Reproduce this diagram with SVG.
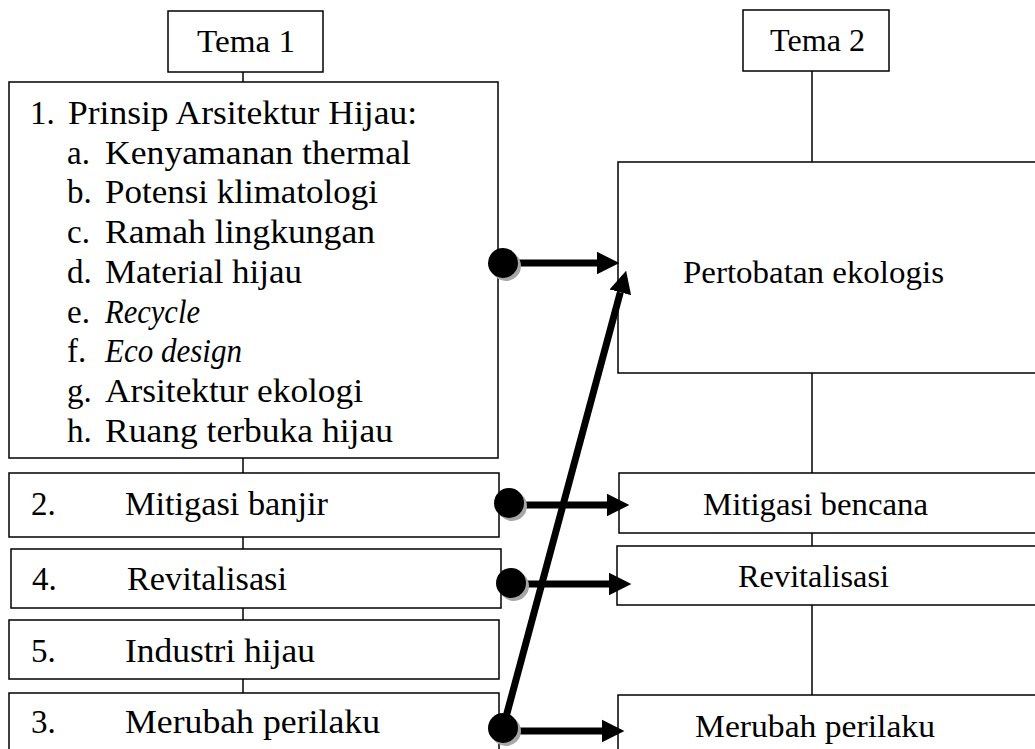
<svg xmlns="http://www.w3.org/2000/svg" width="1035" height="749" viewBox="0 0 1035 749">
<style>
.box{fill:#fff;stroke:#000;stroke-width:1.5}
.ln{stroke:#000;stroke-width:1.5;fill:none}
text{font-family:"Liberation Serif","Times New Roman",serif;font-size:33px;fill:#000}
.t{font-size:32px}
.r{font-size:31px}
.c{text-anchor:middle}
.i{font-style:italic}
.arr{stroke:#000;stroke-width:7;fill:none}
.dot{fill:#000}
.sh{fill:#a6a6a6}
</style>
<defs>
<marker id="ah" markerWidth="3.4" markerHeight="4" refX="0" refY="2" orient="auto" markerUnits="strokeWidth" viewBox="0 0 3.4 4">
<path d="M0,0.4 L3.2,2 L0,3.6 Z" fill="#000"/>
</marker>
</defs>
<g id="connectors-tree">
<line class="ln" x1="243" y1="72" x2="243" y2="82"/>
<line class="ln" x1="243" y1="458" x2="243" y2="473"/>
<line class="ln" x1="243" y1="537" x2="243" y2="549"/>
<line class="ln" x1="243" y1="608" x2="243" y2="620"/>
<line class="ln" x1="243" y1="679" x2="243" y2="693"/>
<line class="ln" x1="812" y1="71" x2="812" y2="162"/>
<line class="ln" x1="812" y1="373" x2="812" y2="473"/>
<line class="ln" x1="812" y1="533" x2="812" y2="546"/>
<line class="ln" x1="812" y1="605" x2="812" y2="695"/>
</g>
<g id="tema1"><rect class="box" x="168" y="11" width="155" height="61"/><text class="t" x="197" y="52" textLength="98" lengthAdjust="spacingAndGlyphs">Tema 1</text></g>
<g id="tema2"><rect class="box" x="743" y="10" width="146" height="61"/><text class="t" x="770" y="51" textLength="95" lengthAdjust="spacingAndGlyphs">Tema 2</text></g>
<g id="n1">
<rect class="box" x="9" y="82" width="489" height="376"/>
<text x="30" y="124">1.</text><text x="68" y="124" textLength="349" lengthAdjust="spacingAndGlyphs">Prinsip Arsitektur Hijau:</text>
<text x="67" y="163.7">a.</text><text x="105" y="163.7" textLength="306" lengthAdjust="spacingAndGlyphs">Kenyamanan thermal</text>
<text x="67" y="203.4">b.</text><text x="105" y="203.4" textLength="273" lengthAdjust="spacingAndGlyphs">Potensi klimatologi</text>
<text x="67" y="243.1">c.</text><text x="105" y="243.1" textLength="270" lengthAdjust="spacingAndGlyphs">Ramah lingkungan</text>
<text x="67" y="282.8">d.</text><text x="105" y="282.8" textLength="197" lengthAdjust="spacingAndGlyphs">Material hijau</text>
<text x="67" y="322.5">e.</text><text class="i" x="105" y="322.5" textLength="95" lengthAdjust="spacingAndGlyphs">Recycle</text>
<text x="67" y="362.2">f.</text><text class="i" x="105" y="362.2" textLength="137" lengthAdjust="spacingAndGlyphs">Eco design</text>
<text x="67" y="401.9">g.</text><text x="105" y="401.9" textLength="258" lengthAdjust="spacingAndGlyphs">Arsitektur ekologi</text>
<text x="67" y="441.6">h.</text><text x="105" y="441.6" textLength="288" lengthAdjust="spacingAndGlyphs">Ruang terbuka hijau</text>
</g>
<g id="n2"><rect class="box" x="9" y="473" width="490" height="64"/><text x="31" y="515">2.</text><text x="125" y="515" textLength="203" lengthAdjust="spacingAndGlyphs">Mitigasi banjir</text></g>
<g id="n4"><rect class="box" x="11" y="549" width="490" height="59"/><text x="32" y="590">4.</text><text x="127" y="590" textLength="160" lengthAdjust="spacingAndGlyphs">Revitalisasi</text></g>
<g id="n5"><rect class="box" x="9" y="620" width="490" height="59"/><text x="31" y="662">5.</text><text x="125" y="662" textLength="190" lengthAdjust="spacingAndGlyphs">Industri hijau</text></g>
<g id="n3"><rect class="box" x="9" y="693" width="490" height="70"/><text x="31" y="733">3.</text><text x="125" y="733" textLength="255" lengthAdjust="spacingAndGlyphs">Merubah perilaku</text></g>
<g id="r1"><rect class="box" x="618" y="162" width="430" height="211"/><text class="r" x="683" y="283" textLength="261" lengthAdjust="spacingAndGlyphs">Pertobatan ekologis</text></g>
<g id="r2"><rect class="box" x="619" y="473" width="430" height="60"/><text class="r" x="703" y="515" textLength="225" lengthAdjust="spacingAndGlyphs">Mitigasi bencana</text></g>
<g id="r3"><rect class="box" x="617" y="546" width="430" height="59"/><text class="r" x="738" y="587" textLength="151" lengthAdjust="spacingAndGlyphs">Revitalisasi</text></g>
<g id="r4"><rect class="box" x="618" y="695" width="430" height="70"/><text class="r" x="695" y="737" textLength="240" lengthAdjust="spacingAndGlyphs">Merubah perilaku</text></g>
<g id="connectors">
<line class="arr" x1="503" y1="263" x2="597" y2="263" marker-end="url(#ah)"/>
<line class="arr" x1="509" y1="505" x2="607" y2="505" marker-end="url(#ah)"/>
<line class="arr" x1="511" y1="584" x2="609" y2="584" marker-end="url(#ah)"/>
<line class="arr" x1="503" y1="731" x2="602" y2="731" marker-end="url(#ah)"/>
<line class="arr" x1="503" y1="728" x2="620.3" y2="292.3" marker-end="url(#ah)"/>
<circle class="sh" cx="506" cy="266" r="15"/><circle class="dot" cx="503" cy="263" r="15"/>
<circle class="sh" cx="512" cy="506" r="15"/><circle class="dot" cx="509" cy="503" r="15"/>
<circle class="sh" cx="514" cy="586" r="15"/><circle class="dot" cx="511" cy="583" r="15"/>
<circle class="sh" cx="506" cy="731" r="15"/><circle class="dot" cx="503" cy="728" r="15"/>
</g>
</svg>
